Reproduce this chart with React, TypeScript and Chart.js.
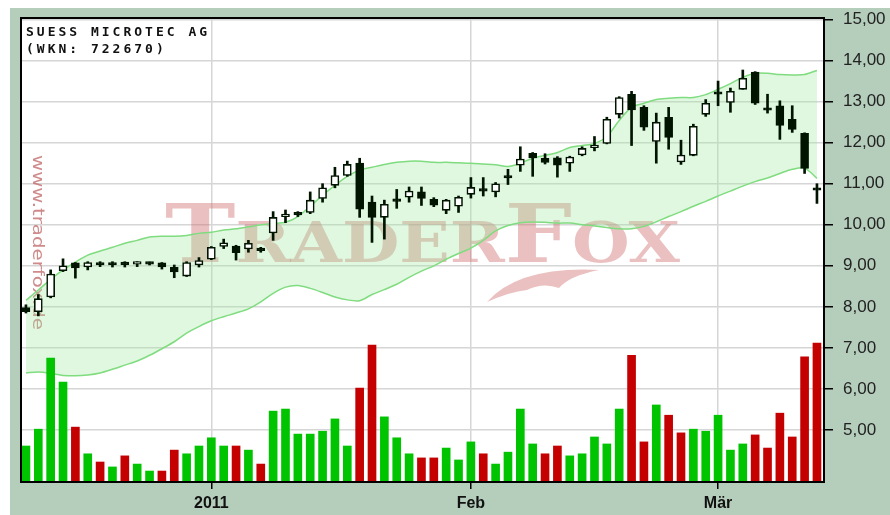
import React, { useEffect, useRef } from "react";
import { Chart, registerables } from "chart.js";

Chart.register(...registerables);

// ---------- DATA ----------
const dates = [
  "13.12.2010", "14.12.2010", "15.12.2010", "16.12.2010", "17.12.2010",
  "20.12.2010", "21.12.2010", "22.12.2010", "23.12.2010", "24.12.2010",
  "27.12.2010", "28.12.2010", "29.12.2010", "30.12.2010", "31.12.2010",
  "03.01.2011", "04.01.2011", "05.01.2011", "06.01.2011", "07.01.2011",
  "10.01.2011", "11.01.2011", "12.01.2011", "13.01.2011", "14.01.2011",
  "17.01.2011", "18.01.2011", "19.01.2011", "20.01.2011", "21.01.2011",
  "24.01.2011", "25.01.2011", "26.01.2011", "27.01.2011", "28.01.2011",
  "31.01.2011", "01.02.2011", "02.02.2011", "03.02.2011", "04.02.2011",
  "07.02.2011", "08.02.2011", "09.02.2011", "10.02.2011", "11.02.2011",
  "14.02.2011", "15.02.2011", "16.02.2011", "17.02.2011", "18.02.2011",
  "21.02.2011", "22.02.2011", "23.02.2011", "24.02.2011", "25.02.2011",
  "28.02.2011", "01.03.2011", "02.03.2011", "03.03.2011", "04.03.2011",
  "07.03.2011", "08.03.2011", "09.03.2011", "10.03.2011", "11.03.2011",
];

const openPrices = [
  7.98, 7.88, 8.24, 8.88, 9.07, 8.97, 9.08, 9.08, 9.08, 9.04,
  9.08, 9.07, 8.96, 8.75, 9.02, 9.16, 9.47, 9.48, 9.41, 9.40,
  9.80, 10.20, 10.30, 10.30, 10.64, 10.96, 11.20, 11.50, 10.55, 10.18,
  10.62, 10.67, 10.80, 10.62, 10.35, 10.45, 10.74, 10.86, 10.80, 11.18,
  11.45, 11.74, 11.62, 11.63, 11.50, 11.70, 11.88, 11.98, 12.69, 13.18,
  12.86, 12.03, 12.62, 11.53, 11.69, 12.69, 13.22, 12.98, 13.30, 13.72,
  12.83, 12.90, 12.57, 12.23, 10.88,
];
const highPrices = [
  8.05, 8.30, 8.90, 9.17, 9.08, 9.10, 9.10, 9.10, 9.10, 9.10,
  9.09, 9.08, 9.02, 9.10, 9.20, 9.47, 9.65, 9.50, 9.62, 9.45,
  10.32, 10.36, 10.32, 10.80, 11.00, 11.40, 11.55, 11.62, 10.70, 10.60,
  10.86, 10.92, 10.92, 10.66, 10.62, 10.70, 11.15, 11.15, 11.03, 11.35,
  11.90, 11.76, 11.73, 11.66, 11.67, 11.90, 12.15, 12.62, 13.12, 13.25,
  12.90, 12.72, 12.86, 12.06, 12.45, 13.05, 13.50, 13.33, 13.77, 13.73,
  13.18, 13.02, 12.90, 12.24, 11.00,
];
const lowPrices = [
  7.85, 7.78, 8.22, 8.86, 8.70, 8.90, 8.98, 8.97, 8.97, 8.98,
  9.02, 8.92, 8.71, 8.74, 8.97, 9.15, 9.42, 9.14, 9.33, 9.33,
  9.62, 10.05, 10.20, 10.27, 10.55, 10.90, 11.18, 10.18, 9.57, 9.65,
  10.40, 10.55, 10.47, 10.44, 10.27, 10.30, 10.65, 10.70, 10.68, 10.98,
  11.30, 11.18, 11.48, 11.16, 11.30, 11.68, 11.80, 11.97, 12.60, 11.93,
  12.30, 11.50, 11.84, 11.47, 11.68, 12.64, 12.90, 12.74, 13.30, 12.93,
  12.72, 12.08, 12.25, 11.25, 10.52,
];
const closePrices = [
  7.88, 8.20, 8.80, 9.00, 8.95, 9.08, 9.02, 9.02, 9.03, 9.05,
  9.04, 8.97, 8.85, 9.08, 9.13, 9.45, 9.56, 9.32, 9.55, 9.37,
  10.18, 10.22, 10.24, 10.60, 10.90, 11.20, 11.47, 10.38, 10.18, 10.50,
  10.57, 10.82, 10.64, 10.48, 10.60, 10.67, 10.91, 10.82, 11.00, 11.14,
  11.60, 11.63, 11.52, 11.45, 11.65, 11.86, 11.90, 12.57, 13.10, 12.80,
  12.38, 12.50, 12.13, 11.70, 12.40, 12.96, 13.18, 13.25, 13.57, 12.96,
  12.79, 12.42, 12.32, 11.37, 10.84,
];

// volume bar tops, read in the chart's own price units
const volumeTops = [
  4.61, 5.02, 6.75, 6.17, 5.07, 4.42, 4.22, 4.10, 4.37, 4.17,
  4.00, 4.00, 4.51, 4.42, 4.61, 4.81, 4.61, 4.61, 4.51, 4.17,
  5.46, 5.51, 4.90, 4.90, 4.97, 5.27, 4.61, 6.02, 7.07, 5.32,
  4.81, 4.42, 4.32, 4.32, 4.56, 4.27, 4.71, 4.42, 4.17, 4.46,
  5.51, 4.66, 4.42, 4.61, 4.37, 4.42, 4.83, 4.66, 5.51, 6.82,
  4.71, 5.61, 5.36, 4.93, 5.02, 4.97, 5.36, 4.51, 4.66, 4.88,
  4.56, 5.41, 4.83, 6.78, 7.12,
];
const volumeUp = [
  1, 1, 1, 1, 0, 1, 0, 1, 0, 1,
  1, 0, 0, 1, 1, 1, 1, 0, 1, 0,
  1, 1, 1, 1, 1, 1, 1, 0, 0, 1,
  1, 1, 0, 0, 1, 1, 1, 0, 1, 1,
  1, 1, 0, 0, 1, 1, 1, 1, 1, 0,
  0, 1, 0, 0, 1, 1, 1, 1, 1, 0,
  0, 0, 0, 0, 0,
];

const bollingerUpper = [
  8.16, 8.41, 8.67, 8.90, 9.09, 9.26, 9.36, 9.45, 9.55, 9.62,
  9.70, 9.72, 9.72, 9.74, 9.79, 9.82, 9.87, 9.90, 9.95, 10.00,
  10.03, 10.06, 10.20, 10.45, 10.72, 10.96, 11.18, 11.33, 11.40, 11.47,
  11.52, 11.55, 11.55, 11.52, 11.52, 11.51, 11.50, 11.48, 11.46, 11.42,
  11.50, 11.62, 11.69, 11.76, 11.88, 11.93, 11.98, 12.15, 12.54, 12.86,
  12.96, 13.05, 13.08, 13.10, 13.10, 13.17, 13.30, 13.44, 13.59, 13.69,
  13.69, 13.66, 13.65, 13.66, 13.76,
];
const bollingerLower = [
  6.39, 6.41, 6.38, 6.33, 6.32, 6.34, 6.39, 6.48, 6.58, 6.68,
  6.82, 6.98, 7.15, 7.36, 7.52, 7.66, 7.76, 7.85, 7.95, 8.12,
  8.33, 8.48, 8.52, 8.45, 8.35, 8.24, 8.17, 8.15, 8.30, 8.42,
  8.55, 8.72, 8.87, 9.00, 9.16, 9.30, 9.43, 9.62, 9.85, 9.98,
  10.05, 10.07, 10.06, 10.04, 10.04, 10.00, 9.97, 9.93, 9.90, 9.90,
  9.96, 10.07, 10.20, 10.32, 10.45, 10.57, 10.70, 10.82, 10.94, 11.05,
  11.14, 11.25, 11.35, 11.38, 11.13,
];

const xTickDates = ["03.01.2011", "01.02.2011", "01.03.2011"];
const xTickLabels = ["2011", "Feb", "Mär"];
const yTickValues = [5, 6, 7, 8, 9, 10, 11, 12, 13, 14, 15];

const titleLines = ["SUESS MICROTEC AG", "(WKN: 722670)"];
const watermarkParts = ["T", "RADER", "F", "OX"];
const watermarkUrl = "www.traderfox.de";

// ---------- CHART ----------
const Y_MIN = 3.733;
const Y_MAX = 15.037;

const decorPlugin = {
  id: "decor",
  beforeDraw(chart: any) {
    const { ctx, chartArea: a, width, height } = chart;
    ctx.save();
    ctx.fillStyle = "#b5cdbb";
    ctx.fillRect(0, 0, width, height);
    ctx.fillStyle = "#ffffff";
    ctx.fillRect(a.left, a.top, a.right - a.left, a.bottom - a.top);
    ctx.restore();
  },
  beforeDatasetsDraw(chart: any) {
    const { ctx, chartArea: a } = chart;
    ctx.save();
    ctx.beginPath();
    ctx.rect(a.left, a.top, a.right - a.left, a.bottom - a.top);
    ctx.clip();

    // big TRADERFOX watermark
    const sizes = [80, 56, 80, 56];
    let total = 0;
    const widths: number[] = [];
    watermarkParts.forEach((t, i) => {
      ctx.font = `bold ${sizes[i]}px "DejaVu Serif"`;
      const w = ctx.measureText(t).width;
      widths.push(w);
      total += w;
    });
    const sx = 515 / total;
    const wmColor = "rgba(205,105,105,0.42)";
    ctx.save();
    ctx.translate(a.left + 144, a.top + 244);
    ctx.scale(sx, 1);
    ctx.fillStyle = wmColor;
    ctx.textBaseline = "alphabetic";
    let x = 0;
    watermarkParts.forEach((t, i) => {
      ctx.font = `bold ${sizes[i]}px "DejaVu Serif"`;
      ctx.fillText(t, x, 0);
      x += widths[i];
    });
    ctx.restore();

    // fox tail swoosh
    ctx.save();
    ctx.translate(a.left, a.top);
    ctx.fillStyle = wmColor;
    ctx.beginPath();
    ctx.moveTo(466, 284);
    ctx.quadraticCurveTo(498, 248, 578, 252);
    ctx.quadraticCurveTo(548, 258, 538, 270);
    ctx.quadraticCurveTo(522, 264, 506, 272);
    ctx.quadraticCurveTo(488, 274, 466, 284);
    ctx.fill();
    ctx.restore();

    // vertical url
    ctx.save();
    ctx.font = '16px "DejaVu Sans"';
    const uw = ctx.measureText(watermarkUrl).width;
    ctx.translate(a.left + 16, a.top + 137);
    ctx.rotate(Math.PI / 2);
    ctx.scale(175 / uw, 1);
    ctx.fillStyle = "rgba(195,110,110,0.8)";
    ctx.textBaseline = "middle";
    ctx.fillText(watermarkUrl, 0, 0);
    ctx.restore();

    ctx.restore();
  },
  afterDraw(chart: any) {
    const { ctx, chartArea: a } = chart;
    ctx.save();
    ctx.strokeStyle = "#000";
    ctx.lineWidth = 2;
    ctx.strokeRect(a.left, a.top, a.right - a.left, a.bottom - a.top);

    ctx.fillStyle = "#111";
    ctx.font = 'bold 13px "DejaVu Sans Mono"';
    ctx.textBaseline = "alphabetic";
    (ctx as any).letterSpacing = "3px";
    ctx.fillText(titleLines[0], a.left + 5, a.top + 18);
    ctx.fillText(titleLines[1], a.left + 5, a.top + 35);
    ctx.restore();
  },
};

export default function App() {
  const ref = useRef<HTMLCanvasElement>(null);

  useEffect(() => {
    const canvas = ref.current;
    if (!canvas) return;
    const idx = dates.map((_, i) => i);
    const tickIdx = xTickDates.map((d) => dates.indexOf(d));

    const chart = new Chart(canvas, {
      type: "bar",
      data: {
        datasets: [
          {
            type: "line",
            label: "BB upper",
            data: idx.map((i) => ({ x: i, y: bollingerUpper[i] })),
            borderColor: "#7fdc7f",
            borderWidth: 1.5,
            pointRadius: 0,
            tension: 0.3,
            fill: "+1",
            backgroundColor: "rgba(160,230,160,0.32)",
            order: 10,
          } as any,
          {
            type: "line",
            label: "BB lower",
            data: idx.map((i) => ({ x: i, y: bollingerLower[i] })),
            borderColor: "#7fdc7f",
            borderWidth: 1.5,
            pointRadius: 0,
            tension: 0.3,
            fill: false,
            order: 9,
          } as any,
          {
            label: "Volume",
            data: idx.map((i) => ({ x: i, y: [Y_MIN, volumeTops[i]] })),
            backgroundColor: idx.map((i) => (volumeUp[i] ? "#00c400" : "#c40000")),
            barThickness: 8,
            grouped: false,
            order: 5,
          } as any,
          {
            label: "Wick",
            data: idx.map((i) => ({ x: i, y: [lowPrices[i], highPrices[i]] })),
            backgroundColor: "#001400",
            barThickness: 2,
            grouped: false,
            order: 2,
          } as any,
          {
            label: "Body",
            data: idx.map((i) => ({ x: i, y: [openPrices[i], closePrices[i]] })),
            backgroundColor: idx.map((i) =>
              closePrices[i] >= openPrices[i] ? "#ffffff" : "#001400"
            ),
            borderColor: "#001400",
            borderWidth: 1.6,
            borderSkipped: false,
            minBarLength: 2.5,
            barThickness: 8,
            grouped: false,
            order: 1,
          } as any,
        ],
      },
      options: {
        animation: false,
        responsive: false,
        events: [],
        layout: { padding: { left: 11, top: 10, right: 0, bottom: 0 }, autoPadding: false },
        plugins: { legend: { display: false }, tooltip: { enabled: false } },
        scales: {
          x: {
            type: "linear",
            min: -0.4,
            max: 64.57,
            offset: false,
            afterBuildTicks: (s: any) => {
              s.ticks = tickIdx.map((v) => ({ value: v }));
            },
            afterFit: (s: any) => {
              s.height = 33;
              s.paddingLeft = 0;
              s.paddingRight = 0;
            },
            grid: {
              offset: false,
              color: "#d6d6d6",
              lineWidth: 1.5,
              tickColor: "#000",
              tickLength: 7,
            },
            border: { display: true, color: "#000", width: 2 },
            ticks: {
              autoSkip: false,
              maxRotation: 0,
              padding: 5,
              color: "#111",
              font: { family: "Liberation Sans", size: 16, weight: "bold" },
              callback: (v: any) => {
                const k = tickIdx.indexOf(Number(v));
                return k >= 0 ? xTickLabels[k] : "";
              },
            },
          },
          y: {
            type: "linear",
            position: "right",
            min: Y_MIN,
            max: Y_MAX,
            afterBuildTicks: (s: any) => {
              s.ticks = yTickValues.map((v) => ({ value: v }));
            },
            afterFit: (s: any) => {
              s.width = 66;
              s.paddingTop = 0;
              s.paddingBottom = 0;
            },
            grid: {
              color: "#d6d6d6",
              lineWidth: 1.5,
              tickColor: "#000",
              tickLength: 9,
            },
            border: { display: true, color: "#000", width: 2 },
            ticks: {
              padding: 10,
              color: "#222",
              font: { family: "Liberation Sans", size: 17 },
              callback: (v: any) => Number(v).toFixed(2).replace(".", ","),
            },
          },
        },
      },
      plugins: [decorPlugin],
    } as any);

    return () => chart.destroy();
  }, []);

  return (
    <div style={{ position: "fixed", left: 10, top: 8, width: 880, height: 507 }}>
      <canvas ref={ref} width={880} height={507} style={{ width: 880, height: 507, display: "block" }} />
    </div>
  );
}
